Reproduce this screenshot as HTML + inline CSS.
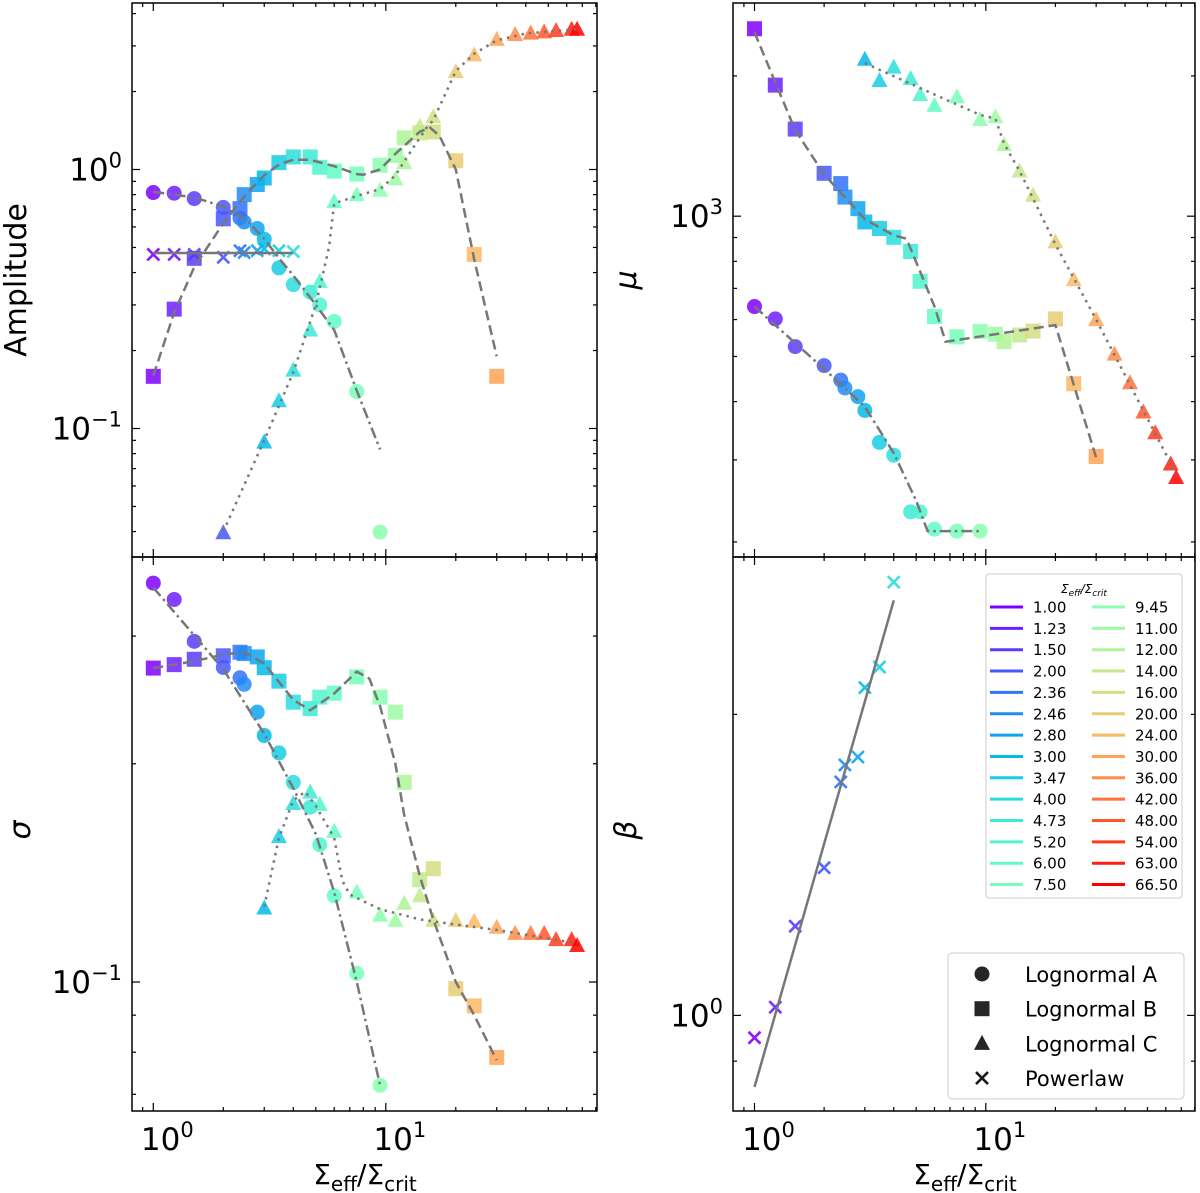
<!DOCTYPE html>
<html><head><meta charset="utf-8"><style>
html,body{margin:0;padding:0;background:#fff}
svg{display:block;font-family:"DejaVu Sans","Liberation Sans",sans-serif}
</style></head><body>
<svg id="chart" width="1200" height="1193" viewBox="0 0 1200 1193" xmlns="http://www.w3.org/2000/svg"></svg>
<script>
const sigmas=[1.00,1.23,1.50,2.00,2.36,2.46,2.80,3.00,3.47,4.00,4.73,5.20,6.00,7.50,9.45,11.00,12.00,14.00,16.00,20.00,24.00,30.00,36.00,42.00,48.00,54.00,63.00,66.50];
const sigmaLabels=["1.00","1.23","1.50","2.00","2.36","2.46","2.80","3.00","3.47","4.00","4.73","5.20","6.00","7.50","9.45","11.00","12.00","14.00","16.00","20.00","24.00","30.00","36.00","42.00","48.00","54.00","63.00","66.50"];
// Amplitude (start index + values; null = no point)
const ampAStart=0;
const ampA=[0.815,0.81,0.772,0.714,0.649,0.627,0.592,0.538,0.417,0.359,0.336,0.300,0.259,0.139,0.0398];
const ampBStart=0;
const ampB=[0.159,0.289,0.454,0.645,0.706,0.80,0.875,0.927,1.063,1.118,1.118,1.02,0.986,0.96,1.038,1.133,1.325,1.386,1.396,1.081,0.47,0.159];
const ampCStart=3;
const ampC=[0.0396,null,null,null,0.0887,0.128,0.168,0.240,0.370,0.751,0.80,0.832,0.921,1.063,1.468,1.599,2.387,2.77,3.18,3.32,3.36,3.40,3.44,3.48,3.48];
const ampPStart=0;
const ampP=[0.47,0.47,0.47,0.458,0.486,0.478,0.486,0.494,0.486,0.482];
// mu
const muAStart=0;
const muA=[640,602,525,478,445,428,410,383,327,307,232,232,213,211,211];
const muBStart=0;
const muB=[2525,1911,1538,1236,1175,1099,1038,972,941,901,840,725,609,551,566,558,538,556,567,602,437,305];
const muCStart=7;
const muC=[2172,1955,2089,1975,1824,1729,1804,1613,1635,1424,1250,1109,881,731,600,506,439,380,343,294,275];
// sigma
const sgAStart=0;
const sgA=[0.355,0.337,0.295,0.2716,0.2628,0.2574,0.2356,0.2188,0.207,0.1885,0.1742,0.1547,0.1315,0.1028,0.072];
const sgBStart=0;
const sgB=[0.271,0.274,0.2787,0.2818,0.285,0.2838,0.2808,0.2713,0.260,0.2432,0.2383,0.2471,0.2502,0.2635,0.2471,0.2356,0.1885,0.1384,0.1433,0.0979,0.0927,0.0787];
const sgCStart=7;
const sgC=[0.1265,0.1587,0.1763,0.1828,0.1758,0.1614,0.1331,0.1236,0.1216,0.1284,0.1315,0.1216,0.1216,0.1213,0.119,0.1167,0.1167,0.1167,0.1144,0.1144,0.1123];
// beta
const betaStart=0;
const beta=[0.950,1.019,1.228,1.405,1.712,1.780,1.813,2.127,2.23,2.712];
// fit curves [x,y]
const fitAmpA=[[1,.82],[1.5,.78],[2,.72],[2.5,.64],[3,.54],[3.5,.45],[4,.39],[5,.30],[6,.24],[7.5,.14],[9.45,.083]];
const fitAmpB=[[1,.16],[1.23,.28],[1.5,.42],[2,.62],[2.5,.8],[3,.95],[3.5,1.05],[4,1.09],[4.73,1.09],[6,1.03],[7.5,.96],[8,.955],[9.45,1.0],[11,1.15],[14,1.4],[15.5,1.45],[17,1.35],[20,1.0],[24,.45],[30,.19]];
const fitAmpC=[[2,.04],[3,.09],[4,.165],[5,.3],[5.7,.5],[6,.74],[7.5,.79],[9.45,.84],[11,.95],[13,1.2],[15,1.45],[16,1.55],[20,2.4],[24,2.8],[30,3.15],[40,3.35],[66.5,3.48]];
const fitAmpP=[[1,.476],[4,.476]];
const fitMuA=[[1,640],[2,470],[3,390],[4,310],[5,245],[5.6,211],[9.45,211]];
const fitMuB=[[1,2480],[1.5,1530],[2,1230],[3,985],[4,910],[4.54,895],[6,640],[6.7,538],[20,584],[30,303]];
const fitMuC=[[3,2130],[5,1900],[9.45,1650],[11,1620],[12,1430],[14,1250],[20,870],[30,600],[66.5,280]];
const fitSgA=[[1,.35],[2,.27],[3,.22],[4,.185],[5,.16],[6,.133],[7.5,.1],[9.45,.072]];
const fitSgB=[[1,.271],[1.5,.277],[2,.283],[2.46,.285],[3,.275],[4,.245],[4.73,.237],[6,.25],[7.5,.268],[8.5,.262],[9.45,.24],[11,.2],[12,.17],[14,.14],[16,.122],[20,.1],[24,.09],[30,.078]];
const fitSgC=[[3,.127],[3.47,.158],[4,.178],[4.5,.183],[5,.175],[6,.158],[6.5,.138],[7,.132],[9.45,.126],[14,.122],[20,.12],[30,.118],[66.5,.113]];
const fitBeta=[[1,.848],[4,2.60]];

const NS="http://www.w3.org/2000/svg";
const svg=document.getElementById('chart');
function mk(tag,attrs,parent){const e=document.createElementNS(NS,tag);for(const k in attrs)e.setAttribute(k,attrs[k]);(parent||svg).appendChild(e);return e;}
function rainbow(t){const r=Math.min(1,Math.abs(2*t-0.5)),g=Math.sin(Math.PI*t),b=Math.cos(Math.PI*t/2);
 return `rgb(${Math.round(r*255)},${Math.round(Math.max(0,g)*255)},${Math.round(Math.max(0,b)*255)})`;}
function col(i){return rainbow(i/(sigmas.length-1));}

function panel(name,x0,x1,y0,y1,xOne,xDec,yRefLog,yRefPx,yDec){
 const p={name,x0,x1,y0,y1};
 p.sx=v=>xOne+Math.log10(v)*xDec;
 p.sy=v=>yRefPx-(Math.log10(v)-yRefLog)*yDec;
 p.g=mk('g',{});
 
 
 p.clip='clip-'+name;
 const cp=mk('clipPath',{id:p.clip});mk('rect',{x:x0,y:y0,width:x1-x0,height:y1-y0},cp);
 p.plot=mk('g',{'clip-path':`url(#${p.clip})`},p.g);
 const tg=mk('g',{stroke:'#000','stroke-width':1.2},p.g);
 
 
 for(let d=-1;d<=2;d++)for(let m=1;m<10;m++){const v=m*Math.pow(10,d);const px=p.sx(v);if(px<x0||px>x1)continue;const L=m===1?8:4;
  mk('line',{x1:px,y1:y1,x2:px,y2:y1-L},tg);mk('line',{x1:px,y1:y0,x2:px,y2:y0+L},tg);}
 for(let d=-3;d<=4;d++)for(let m=1;m<10;m++){const v=m*Math.pow(10,d);const py=p.sy(v);if(py<y0||py>y1)continue;const L=m===1?8:4;
  mk('line',{x1:x0,y1:py,x2:x0+L,y2:py},tg);mk('line',{x1:x1,y1:py,x2:x1-L,y2:py},tg);}
 return p;
}
function frame(p){const r=mk('rect',{x:p.x0,y:p.y0,width:p.x1-p.x0,height:p.y1-p.y0,fill:'none',stroke:'#000','stroke-width':1.5},p.g);
 }
function marker(g,shape,cx,cy,c){
 let e;
 if(shape==='o'){e=mk('circle',{cx,cy,r:7.5,fill:c,'fill-opacity':0.85},g);}
 else if(shape==='s'){e=mk('rect',{x:cx-7.5,y:cy-7.5,width:15,height:15,fill:c,'fill-opacity':0.85},g);}
 else if(shape==='^'){e=mk('polygon',{points:`${cx},${cy-8.5} ${cx-8},${cy+6.5} ${cx+8},${cy+6.5}`,fill:c,'fill-opacity':0.85},g);}
 else {e=mk('path',{d:`M${cx-6},${cy-6}L${cx+6},${cy+6}M${cx-6},${cy+6}L${cx+6},${cy-6}`,stroke:c,'stroke-width':2.6,fill:'none','stroke-opacity':0.9},g);}
 return e;
}
function series(p,shape,start,vals,label){
 const g=mk('g',{},p.plot);
 
 
 vals.forEach((v,k)=>{if(v===null)return;const i=start+k;const e=marker(g,shape,p.sx(sigmas[i]),p.sy(v),col(i));
  
  });
}
function fit(p,pts,dash,label){
 const d=pts.map((q,k)=>(k?'L':'M')+p.sx(q[0]).toFixed(1)+','+p.sy(q[1]).toFixed(1)).join('');
 const e=mk('path',{d,fill:'none',stroke:'#777','stroke-width':2.5,'stroke-dasharray':dash,'stroke-linecap':'butt'},p.plot);
 
 
}
const DASH='10,5', DOT='2.5,5', DASHDOT='11,4,2.5,4', SOLID='none';
function ylab(text,x,y,italic,name){const t=mk('text',{x,y,'font-size':30,'text-anchor':'middle',transform:`rotate(-90 ${x} ${y})`,'font-style':italic?'italic':'normal'});t.textContent=text;
 }
function pow10(x,y,exp,name,anchor){const t=mk('text',{x,y,'font-size':31,'text-anchor':anchor||'end'});
 
 t.appendChild(document.createTextNode('10'));const s=mk('tspan',{dy:-13,'font-size':21},t);s.textContent=exp;}
function xlab(cx,name){const t=mk('text',{x:cx,y:1184,'font-size':28,'text-anchor':'middle'});
 
 t.appendChild(document.createTextNode('Σ'));let s=mk('tspan',{dy:7,'font-size':20},t);s.textContent='eff';
 s=mk('tspan',{dy:-7,'font-size':28},t);s.textContent='/Σ';s=mk('tspan',{dy:7,'font-size':20},t);s.textContent='crit';}

const TL=panel('amplitude-panel',132,597,3,557,153.3,232.5,0,169.5,259);
series(TL,'o',ampAStart,ampA,'lognormal-a');series(TL,'s',ampBStart,ampB,'lognormal-b');
series(TL,'^',ampCStart,ampC,'lognormal-c');series(TL,'x',ampPStart,ampP,'powerlaw');
fit(TL,fitAmpA,DASHDOT,'fit-a');fit(TL,fitAmpB,DASH,'fit-b');fit(TL,fitAmpC,DOT,'fit-c');fit(TL,fitAmpP,SOLID,'fit-powerlaw');frame(TL);

const TR=panel('mu-panel',733,1195,3,557,754.5,231.3,3,216.2,466);
series(TR,'o',muAStart,muA,'lognormal-a');series(TR,'s',muBStart,muB,'lognormal-b');series(TR,'^',muCStart,muC,'lognormal-c');
fit(TR,fitMuA,DASHDOT,'fit-a');fit(TR,fitMuB,DASH,'fit-b');fit(TR,fitMuC,DOT,'fit-c');frame(TR);

const BL=panel('sigma-panel',132,597,557,1111,153.3,232.5,-1,982,725);
series(BL,'o',sgAStart,sgA,'lognormal-a');series(BL,'s',sgBStart,sgB,'lognormal-b');series(BL,'^',sgCStart,sgC,'lognormal-c');
fit(BL,fitSgA,DASHDOT,'fit-a');fit(BL,fitSgB,DASH,'fit-b');fit(BL,fitSgC,DOT,'fit-c');frame(BL);

const BR=panel('beta-panel',733,1195,557,1111,754.5,231.3,0,1015.4,1000);
series(BR,'x',betaStart,beta,'powerlaw');fit(BR,fitBeta,SOLID,'fit-powerlaw');frame(BR);

ylab('Amplitude',26,280,false,'amplitude-axis-title');
ylab('μ',636,280,true,'mu-axis-title');
ylab('σ',30,830,true,'sigma-axis-title');
ylab('β',636,830,true,'beta-axis-title');
pow10(122,TL.sy(1)+11,'0','ytick-amp-1e0');
pow10(122,TL.sy(0.1)+11,'−1','ytick-amp-1e-1');
pow10(723,TR.sy(1000)+11,'3','ytick-mu-1e3');
pow10(122,BL.sy(0.1)+11,'−1','ytick-sigma-1e-1');
pow10(723,BR.sy(1)+11,'0','ytick-beta-1e0');
pow10(BL.sx(1)+14,1150,'0','xtick-left-1e0','middle');
pow10(BL.sx(10)+14,1150,'1','xtick-left-1e1','middle');
pow10(BR.sx(1)+14,1150,'0','xtick-right-1e0','middle');
pow10(BR.sx(10)+14,1150,'1','xtick-right-1e1','middle');
xlab(365,'x-axis-title-left');xlab(965,'x-axis-title-right');

const lg=mk('g',{});


mk('rect',{x:986,y:574,width:196,height:324,rx:3,fill:'#fff','fill-opacity':0.85,stroke:'#ccc','stroke-width':1},lg);
const lt=mk('text',{x:1084,y:593,'font-size':12,'text-anchor':'middle','font-style':'italic'},lg);
lt.appendChild(document.createTextNode('Σ'));let ts=mk('tspan',{dy:3,'font-size':9},lt);ts.textContent='eff';
ts=mk('tspan',{dy:-3,'font-size':12},lt);ts.textContent='/Σ';ts=mk('tspan',{dy:3,'font-size':9},lt);ts.textContent='crit';
sigmaLabels.forEach((s,i)=>{const c=Math.floor(i/14),r=i%14;const y=607+r*21.35;const lx=c?1092:990;
 const e=mk('g',{},lg);
 
 
 mk('line',{x1:lx,y1:y,x2:lx+33,y2:y,stroke:col(i),'stroke-width':3},e);
 const t=mk('text',{x:lx+43,y:y+5.5,'font-size':15},e);t.textContent=s;});

const mg=mk('g',{});


mk('rect',{x:948,y:953,width:236,height:146,rx:4,fill:'#fff','fill-opacity':0.85,stroke:'#ccc','stroke-width':1},mg);
[['o','Lognormal A'],['s','Lognormal B'],['^','Lognormal C'],['x','Powerlaw']].forEach((q,k)=>{const y=974+k*34.7;
 const e=mk('g',{},mg);
 
 
 marker(e,q[0],982,y,'#000');
 const t=mk('text',{x:1025,y:y+8,'font-size':21},e);t.textContent=q[1];});
</script>
</body></html>
